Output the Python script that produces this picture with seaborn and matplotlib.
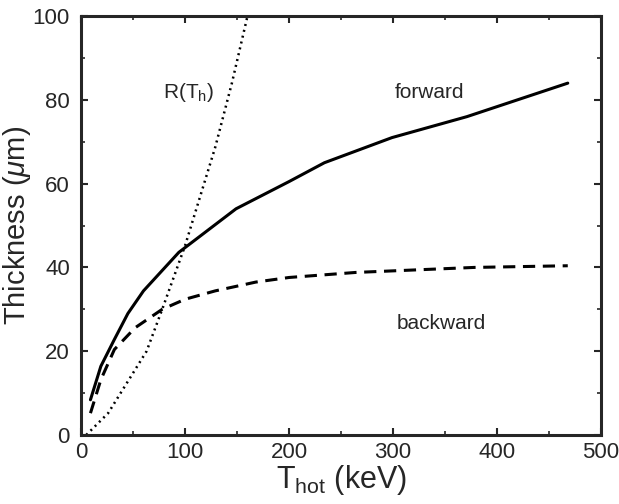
import matplotlib
matplotlib.use("Agg")
import matplotlib.pyplot as plt
from matplotlib.ticker import MultipleLocator
import seaborn as sns

# forward (solid)
fwd_T = [9, 19, 32, 45, 60, 94, 149, 200, 234, 299, 371, 468]
fwd_d = [8.4, 16.4, 22.8, 29, 34.4, 43.6, 54, 60.5, 65, 71, 76, 84]

# backward (dashed)
bwd_T = [9, 19, 32, 52, 78, 100, 129, 168, 200, 264, 302, 378, 468]
bwd_d = [5.2, 13.2, 20.4, 25.6, 30, 32.4, 34.4, 36.5, 37.6, 38.8, 39.2, 40, 40.4]

# range R(Th) (dotted)
rng_T = [5, 26, 42, 63, 78, 100, 129, 145, 160]
rng_d = [0, 5.2, 11.6, 20, 30, 45.2, 68.7, 84, 100]

sns.set_style("ticks")
plt.rcParams["font.family"] = ["Liberation Sans", "DejaVu Sans"]
plt.rcParams["mathtext.fontset"] = "custom"
plt.rcParams["mathtext.rm"] = "Liberation Sans"
plt.rcParams["mathtext.it"] = "Liberation Sans:italic"

fig = plt.figure(figsize=(6.19, 5.04), dpi=100)
ax = fig.add_axes([0.131, 0.137, 0.840, 0.831])

sns.lineplot(x=fwd_T, y=fwd_d, ax=ax, color="black", lw=2.2, linestyle="-")
sns.lineplot(x=bwd_T, y=bwd_d, ax=ax, color="black", lw=2.2, linestyle=(0, (4, 2.5)))
sns.lineplot(x=rng_T, y=rng_d, ax=ax, color="black", lw=1.8, linestyle=(0, (0.8, 1.6)))

ax.set_xlim(0, 500)
ax.set_ylim(0, 100)
ax.xaxis.set_major_locator(MultipleLocator(100))
ax.xaxis.set_minor_locator(MultipleLocator(50))
ax.yaxis.set_major_locator(MultipleLocator(20))
ax.yaxis.set_minor_locator(MultipleLocator(10))
ax.tick_params(which="both", direction="in", top=True, right=True, labelsize=16)
ax.tick_params(axis="x", pad=5)
ax.tick_params(axis="y", pad=8)
ax.tick_params(which="major", length=5, width=1.5)
ax.tick_params(which="minor", length=3, width=1.2)
for s in ax.spines.values():
    s.set_linewidth(2.2)

ax.set_xlabel(r"T$_{\rm hot}$ (keV)", fontsize=22, labelpad=0)
ax.set_ylabel(r"Thickness ($\mu$m)", fontsize=21, labelpad=0)

ax.text(103, 81.8, r"R(T$_{\rm h}$)", fontsize=15, ha="center", va="center")
ax.text(335, 81.8, "forward", fontsize=15, ha="center", va="center")
ax.text(346, 26.6, "backward", fontsize=15, ha="center", va="center")

fig.savefig("out.png", dpi=100)
